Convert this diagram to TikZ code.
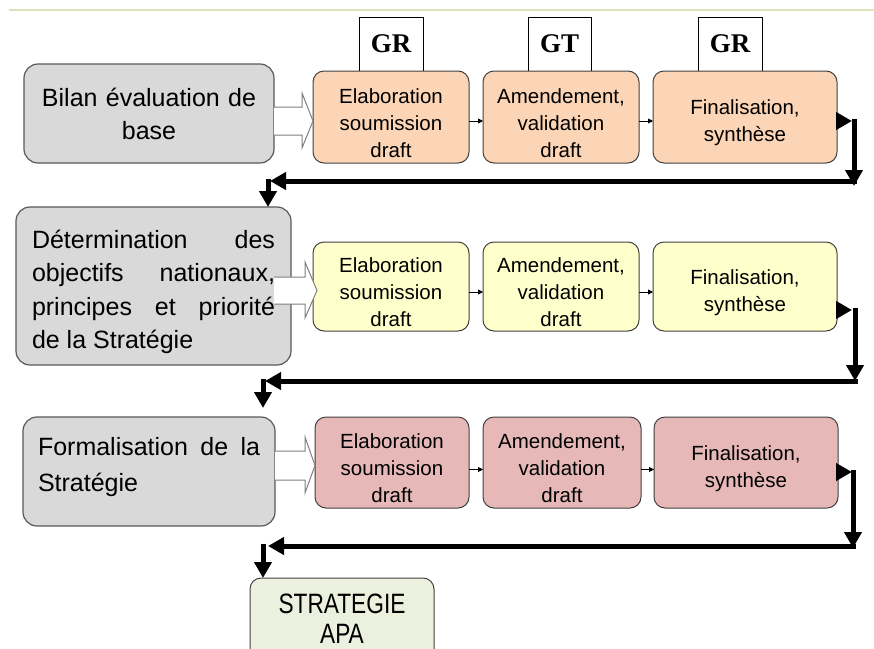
\documentclass[tikz,border=0pt]{standalone}
\usepackage{fontspec}
\setmainfont{Liberation Sans}
\newfontfamily\gfont{Liberation Serif}
\newfontfamily\condfont[FakeStretch=0.81]{Liberation Sans}
\usetikzlibrary{arrows.meta}
\setlength\parindent{0pt}
\definecolor{peach}{HTML}{FBD5B5}
\definecolor{lyellow}{HTML}{FFFFCC}
\definecolor{pinkish}{HTML}{E6B9B8}
\definecolor{lgray}{HTML}{D9D9D9}
\definecolor{lgreen}{HTML}{EBF1DE}
\definecolor{topline}{HTML}{D7E4BD}
\definecolor{bord}{HTML}{404040}
\definecolor{bordL}{HTML}{595959}
\definecolor{hollowc}{HTML}{7F7F7F}
\begin{document}
\begin{tikzpicture}[x=1pt,y=-1pt,
  every node/.style={inner sep=0pt,outer sep=0pt},
  leftbox/.style={draw=bordL,line width=1.2pt,fill=lgray,rounded corners=14pt,anchor=north west},
  stepbox/.style={draw=bord,line width=1pt,rounded corners=11pt,anchor=north west,align=center,
    text width=150pt,text height=27pt,font=\fontsize{20.5}{27}\selectfont},
  labbox/.style={draw=black,line width=1pt,fill=white,anchor=north west,minimum width=64pt,minimum height=54pt,
    font=\gfont\bfseries\fontsize{27}{27}\selectfont},
  hollow/.style={draw=hollowc,line width=1pt},
  smallarr/.style={line width=0.8pt,-{Triangle[length=5pt,width=5pt]}},
  bigarr/.style={line width=5pt,-{Triangle[length=16pt,width=17pt]}}
]
\useasboundingbox (0,0) rectangle (874,648);
% top line
\coordinate (tl0) at (9,10);
\coordinate (tl1) at (874,10);
\draw[topline,line width=2pt] (tl0) -- (tl1);

% left boxes
\node[leftbox,minimum width=250pt,minimum height=99pt,text width=230pt,align=center,
  font=\fontsize{25}{33}\selectfont] (l1) at (24,64) {Bilan évaluation de\\base};
\node[leftbox,minimum width=275pt,minimum height=158pt,text width=243pt,align=justify,text height=30pt,
  font=\fontsize{25}{33.5}\selectfont] (l2) at (16,207)
  {Détermination des\linebreak objectifs nationaux,\linebreak principes et priorité\linebreak de la Stratégie};
\node[leftbox,minimum width=252pt,minimum height=109pt,text width=222pt,align=justify,text depth=51pt,
  font=\fontsize{25}{36}\selectfont] (l3) at (23,417)
  {Formalisation de la\linebreak Stratégie};

% label boxes
\node[labbox] (g1) at (359,17) {GR};
\node[labbox,minimum width=63pt] (g2) at (528,17) {GT};
\node[labbox] (g3) at (698,17) {GR};

% step boxes row 1
\node[stepbox,fill=peach,minimum width=156pt,minimum height=92pt] (e1) at (313,71) {Elaboration\\soumission\\draft};
\node[stepbox,fill=peach,minimum width=156pt,minimum height=92pt] (a1) at (483,71) {Amendement,\\validation\\draft};
\node[stepbox,fill=peach,minimum width=184pt,minimum height=92pt] (f1) at (653,71) {Finalisation,\\synthèse};
% row 2
\node[stepbox,fill=lyellow,minimum width=156pt,minimum height=89pt] (e2) at (313,242) {Elaboration\\soumission\\draft};
\node[stepbox,fill=lyellow,minimum width=156pt,minimum height=89pt] (a2) at (483,242) {Amendement,\\validation\\draft};
\node[stepbox,fill=lyellow,minimum width=184pt,minimum height=89pt] (f2) at (653,242) {Finalisation,\\synthèse};
% row 3
\node[stepbox,fill=pinkish,minimum width=154pt,minimum height=91pt] (e3) at (315,417) {Elaboration\\soumission\\draft};
\node[stepbox,fill=pinkish,minimum width=158pt,minimum height=91pt] (a3) at (483,417) {Amendement,\\validation\\draft};
\node[stepbox,fill=pinkish,minimum width=184pt,minimum height=91pt] (f3) at (654,417) {Finalisation,\\synthèse};

% final box
\node[stepbox,fill=lgreen,minimum width=184pt,minimum height=92pt,text height=20pt,text depth=42pt,
  font=\condfont\fontsize{28}{30}\selectfont] (s) at (250,578) {STRATEGIE\\APA};

% hollow block arrows
\fill[white] (274,107) -- (302,107) -- (302,93) -- (313,121) -- (302,148) -- (302,135) -- (274,135) -- cycle;
\draw[hollow] (274,107) -- (302,107) -- (302,93) -- (313,121) -- (302,148) -- (302,135) -- (274,135);
\fill[white] (274,277) -- (305,277) -- (305,262) -- (317,290.5) -- (305,318) -- (305,304) -- (274,304) -- cycle;
\draw[hollow] (274,277) -- (305,277) -- (305,262) -- (317,290.5) -- (305,318) -- (305,304) -- (274,304);
\fill[white] (275,451) -- (305,451) -- (305,437) -- (315,465.5) -- (305,493) -- (305,480) -- (275,480) -- cycle;
\draw[hollow] (275,451) -- (305,451) -- (305,437) -- (315,465.5) -- (305,493) -- (305,480) -- (275,480);

% small arrows
\draw[smallarr] ([yshift=-4pt]e1.east) -- ([yshift=-4pt]a1.west);
\draw[smallarr] ([yshift=-4pt]a1.east) -- ([yshift=-4pt]f1.west);
\draw[smallarr] ([yshift=-5.5pt]e2.east) -- ([yshift=-5.5pt]a2.west);
\draw[smallarr] ([yshift=-5.5pt]a2.east) -- ([yshift=-5.5pt]f2.west);
\draw[smallarr] ([yshift=-7pt]e3.east) -- ([yshift=-7pt]a3.west);
\draw[smallarr] ([yshift=-7pt]a3.east) -- ([yshift=-7pt]f3.west);

% big connectors row 1
\coordinate (t1) at (852,121);
\coordinate (v1a) at (854,119);
\coordinate (v1b) at (854,186);
\coordinate (h1a) at (856.5,181);
\coordinate (h1b) at (270,181);
\coordinate (d1a) at (268,179);
\draw[bigarr] ([yshift=-4pt]f1.east) -- (t1);
\draw[bigarr] (v1a) -- (v1b);
\draw[bigarr] (h1a) -- (h1b);
\draw[bigarr] (d1a) -- (l2.north -| d1a);
% row 2
\coordinate (t2) at (852,310);
\coordinate (v2a) at (855,308);
\coordinate (v2b) at (855,381);
\coordinate (h2a) at (857.5,381);
\coordinate (h2b) at (265,381);
\coordinate (d2a) at (263,379);
\coordinate (d2b) at (263,408);
\draw[bigarr] ([yshift=-23.5pt]f2.east) -- (t2);
\draw[bigarr] (v2a) -- (v2b);
\draw[bigarr] (h2a) -- (h2b);
\draw[bigarr] (d2a) -- (d2b);
% row 3
\coordinate (t3) at (852,472);
\coordinate (v3a) at (853,470);
\coordinate (v3b) at (853,548);
\coordinate (h3a) at (855.5,546);
\coordinate (h3b) at (268,546);
\coordinate (d3a) at (263,544);
\draw[bigarr] ([yshift=-9.5pt]f3.east) -- (t3);
\draw[bigarr] (v3a) -- (v3b);
\draw[bigarr] (h3a) -- (h3b);
\draw[bigarr] (d3a) -- (s.north -| d3a);
\end{tikzpicture}
\end{document}
